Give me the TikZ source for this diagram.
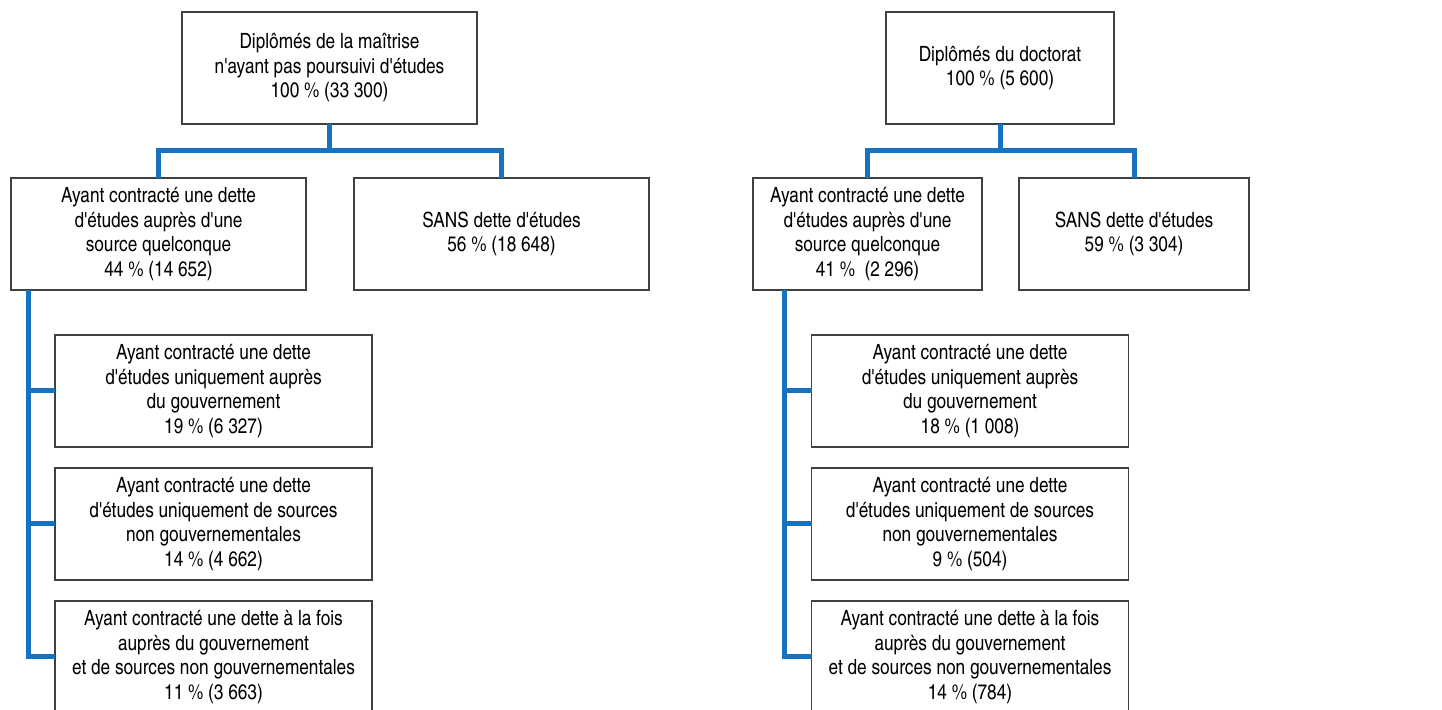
\documentclass[tikz,border=0pt]{standalone}
\usepackage{fontspec}
\setmainfont{texgyreheroscn-regular.otf}[Ligatures=TeXOff]
\usepackage{tikz}
\usetikzlibrary{calc, positioning}
\definecolor{MyBlue}{RGB}{22,114,190}
\definecolor{MyBorder}{RGB}{64,64,64}
\tikzstyle{link} = [draw=MyBlue, line width=5pt]
\tikzstyle{box} = [rectangle, draw=MyBorder, line width=1.5pt, minimum height=112pt, inner sep=0pt, outer sep=0pt, align=center, font=\fontsize{21}{24.5}\selectfont]
\tikzstyle{topbox} = [box, minimum width=295pt]
\tikzstyle{subbox} = [box, minimum width=317pt]

\begin{document}
\begin{tikzpicture}[x=1pt, y=1pt, node distance=45pt]
	\useasboundingbox (0,0) rectangle (1442,709);
	% MAITRISE
	\node (topL) [topbox] at (329.5,641) {Diplômés de la maîtrise\\n'ayant pas poursuivi d'études\\100 \% (33 300)};
	\node (debtL) [below=54pt of topL, xshift=-171pt, topbox] {Ayant contracté une dette\\d'études auprès d'une\\source quelconque\\44 \% (14 652)};
	\node (nodebtL) [right=48pt of debtL, topbox] {SANS dette d'études\\56 \% (18 648)};
	\node (govL) [below=of debtL, xshift=55pt, subbox] {Ayant contracté une dette\\d'études uniquement auprès\\du gouvernement\\19 \% (6 327)};
	\node (ngovL) [below=21pt of govL, subbox] {Ayant contracté une dette\\d'études uniquement de sources\\non gouvernementales\\14 \% (4 662)};
	\node (bothL) [below=21pt of ngovL, subbox] {Ayant contracté une dette à la fois\\auprès du gouvernement\\et de sources non gouvernementales\\11 \% (3 663)};

	% DOCTORAT
	\node (topR) [box, minimum width=228pt] at (1000,641) {Diplômés du doctorat\\100 \% (5 600)};
	\node (debtR) [below=54pt of topR, xshift=-132.5pt, box, minimum width=229pt] {Ayant contracté une dette\\d'études auprès d'une\\source quelconque\\41 \%\ \ (2 296)};
	\node (nodebtR) [right=37pt of debtR, box, minimum width=230pt] {SANS dette d'études\\59 \% (3 304)};
	\node (govR) [below=of debtR, xshift=102.5pt, subbox] {Ayant contracté une dette\\d'études uniquement auprès\\du gouvernement\\18 \% (1 008)};
	\node (ngovR) [below=21pt of govR, subbox] {Ayant contracté une dette\\d'études uniquement de sources\\non gouvernementales\\9 \% (504)};
	\node (bothR) [below=21pt of ngovR, subbox] {Ayant contracté une dette à la fois\\auprès du gouvernement\\et de sources non gouvernementales\\14 \% (784)};

	% links
	\foreach \t in {L, R} {
		\coordinate (fork\t) at ($(top\t.south)!0.5!(top\t.south |- debt\t.north)$);
		\coordinate (spine\t) at ([xshift=-27pt]gov\t.west);
		\draw [link] (top\t.south) -- (fork\t);
		\draw [link] (debt\t.north) |- (fork\t) -| (nodebt\t.north);
		\draw [link] (debt\t.south -| spine\t) |- (both\t.west);
		\draw [link] (gov\t.west -| spine\t) -- (gov\t.west);
		\draw [link] (ngov\t.west -| spine\t) -- (ngov\t.west);
	}
\end{tikzpicture}
\end{document}
